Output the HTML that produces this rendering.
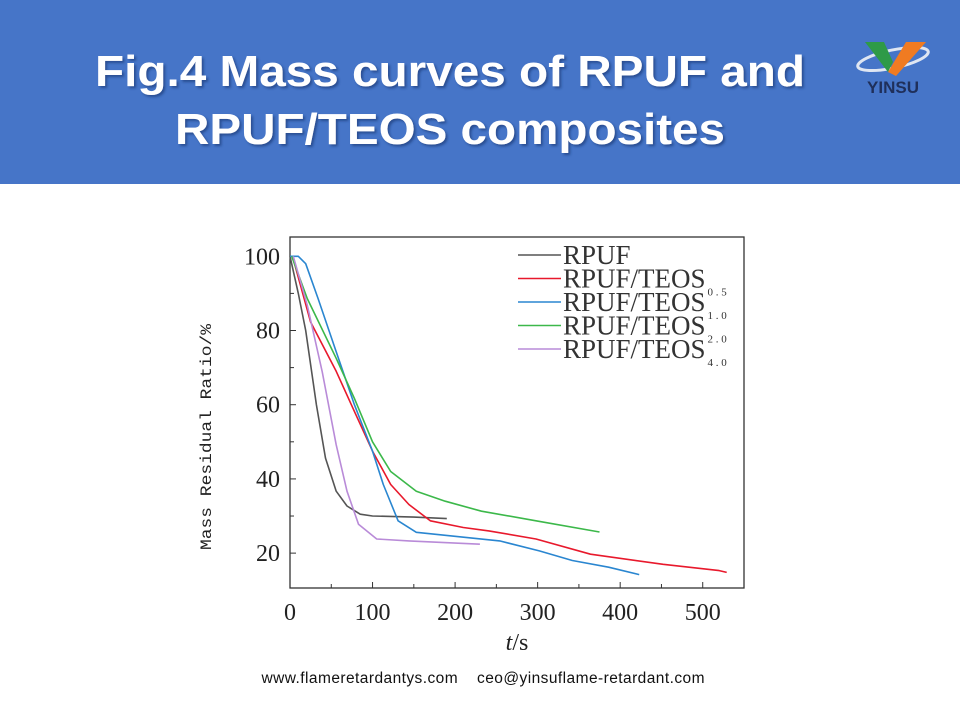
<!DOCTYPE html>
<html><head><meta charset="utf-8"><style>
html,body{margin:0;padding:0;background:#fff;}
body{width:960px;height:720px;position:relative;overflow:hidden;font-family:"Liberation Sans",sans-serif;}
</style></head><body>
<svg width="960" height="720" viewBox="0 0 960 720" xmlns="http://www.w3.org/2000/svg">
<defs><filter id="sh" x="-5%" y="-5%" width="110%" height="120%"><feDropShadow dx="2" dy="2" stdDeviation="1.2" flood-color="#1c3a7a" flood-opacity="0.7"/></filter></defs>
<rect x="0" y="0" width="960" height="184" fill="#4675c8"/>
<g filter="url(#sh)" fill="#fff" font-family="Liberation Sans, sans-serif" font-weight="bold" font-size="44" text-anchor="middle">
<text x="450" y="86" textLength="710" lengthAdjust="spacingAndGlyphs">Fig.4 Mass curves of RPUF and</text>
<text x="450" y="144" textLength="550" lengthAdjust="spacingAndGlyphs">RPUF/TEOS composites</text>
</g>
<g>
<ellipse cx="893" cy="59" rx="36" ry="9" fill="none" stroke="#dfe6f2" stroke-width="3" transform="rotate(-12 893 59)"/>
<polygon points="865,42 884,42 893,62 888,72" fill="#2e9a48"/>
<polygon points="888,72 906,42 926,42 896,76" fill="#f07b22"/>
<text x="893" y="93" font-size="17" font-weight="bold" fill="#1f2f5a" text-anchor="middle" font-family="Liberation Sans, sans-serif">YINSU</text>
</g>
<g id="chart"></g>
<text x="483" y="683" font-size="15.5" fill="#111" text-anchor="middle" textLength="443" lengthAdjust="spacing">www.flameretardantys.com&#160;&#160;&#160;&#160;ceo@yinsuflame-retardant.com</text>
</svg>
<script>
const xTicks=[0,100,200,300,400,500];
const yTicks=[20,40,60,80,100];
const seriesNames=["RPUF","RPUF/TEOS","RPUF/TEOS","RPUF/TEOS","RPUF/TEOS"];
const seriesSubs=["","0.5","1.0","2.0","4.0"];
const seriesColors=["#555555","#e8192c","#2a86d0","#3cb84a","#b98bd8"];
const rpufT=[0,10,19,32,43,56,69,85,100,150,190];
const rpufV=[100,90,80,60,45.6,36.7,32.7,30.5,30,29.7,29.3];
const teos05T=[3,25,56,78,100,122,144,170,210,241,298,364,452,520,529];
const teos05V=[100,82.3,69,58.2,47.5,38.5,33.1,28.7,26.9,26,23.8,19.7,17,15.3,14.8];
const teos10T=[0,10,19,34,56,78,100,113,131,153,197,254,302,342,386,423];
const teos10V=[100,100,98,88.6,74.3,60,47.5,38.5,28.7,25.6,24.6,23.3,20.6,18,16.2,14.2];
const teos20T=[2,21,56,78,100,122,153,188,232,298,375];
const teos20V=[100,88.6,72.5,61.7,50,42,36.7,34,31.3,28.7,25.7];
const teos40T=[4,21,39,56,69,83,105,144,230];
const teos40V=[100,86.8,68.9,49.2,36.7,27.8,23.8,23.3,22.4];
const seriesT=[rpufT,teos05T,teos10T,teos20T,teos40T];
const seriesV=[rpufV,teos05V,teos10V,teos20V,teos40V];

const NS="http://www.w3.org/2000/svg";
const g=document.getElementById('chart');
const X0=290,X1=744,Y0=237,Y1=588,TMAX=550,VMIN=10.6,VMAX=105.2;
function sx(t){return X0+(t/TMAX)*(X1-X0);}
function sy(v){return Y1-(v-VMIN)/(VMAX-VMIN)*(Y1-Y0);}
function mk(tag,attrs){const e=document.createElementNS(NS,tag);for(const k in attrs)e.setAttribute(k,attrs[k]);g.appendChild(e);return e;}
const frame=mk('rect',{x:X0,y:Y0,width:X1-X0,height:Y1-Y0,fill:'none',stroke:'#333','stroke-width':1.3});


for(let t=0;t<=TMAX;t+=50){const tk=mk('line',{x1:sx(t),x2:sx(t),y1:Y1,y2:Y1-(t%100===0?6:4),stroke:'#333'});

}
for(let v=20;v<=100;v+=10){const tk=mk('line',{x1:X0,x2:X0+(v%20===0?6:4),y1:sy(v),y2:sy(v),stroke:'#333'});

}
xTicks.forEach(t=>{const e=mk('text',{x:sx(t),y:620,'font-size':24,'text-anchor':'middle','font-family':'Liberation Serif, serif',fill:'#222'});e.textContent=t;

});
yTicks.forEach(v=>{const e=mk('text',{x:X0-10,y:sy(v)+8,'font-size':24,'text-anchor':'end','font-family':'Liberation Serif, serif',fill:'#222'});e.textContent=v;

});
const xt=mk('text',{x:517,y:650,'font-size':24,'text-anchor':'middle','font-family':'Liberation Serif, serif',fill:'#222'});
xt.innerHTML='<tspan font-style="italic">t</tspan>/s';


const yt=mk('text',{x:0,y:0,'font-size':16,'text-anchor':'middle','font-family':'Liberation Mono, monospace',fill:'#222',transform:'translate(211,437) rotate(-90)',textLength:226,lengthAdjust:'spacingAndGlyphs'});
yt.textContent='Mass Residual Ratio/%';


seriesT.forEach((ts,i)=>{const d=ts.map((t,j)=>(j?'L':'M')+sx(t).toFixed(1)+','+sy(seriesV[i][j]).toFixed(1)).join('');
const p=mk('path',{d:d,fill:'none',stroke:seriesColors[i],'stroke-width':1.6,'stroke-linejoin':'round'});

});
seriesNames.forEach((n,i)=>{const ly=255+i*23.5;
const l=mk('line',{x1:518,x2:561,y1:ly,y2:ly,stroke:seriesColors[i],'stroke-width':1.6});


const t=mk('text',{x:563,y:ly+9,'font-size':27,'font-family':'Liberation Serif, serif',fill:'#333'});
t.innerHTML=n+(seriesSubs[i]?'<tspan font-size="11" dy="8" dx="2">'+seriesSubs[i].split('').join(' ')+'</tspan>':'');

});
</script>
</body></html>
